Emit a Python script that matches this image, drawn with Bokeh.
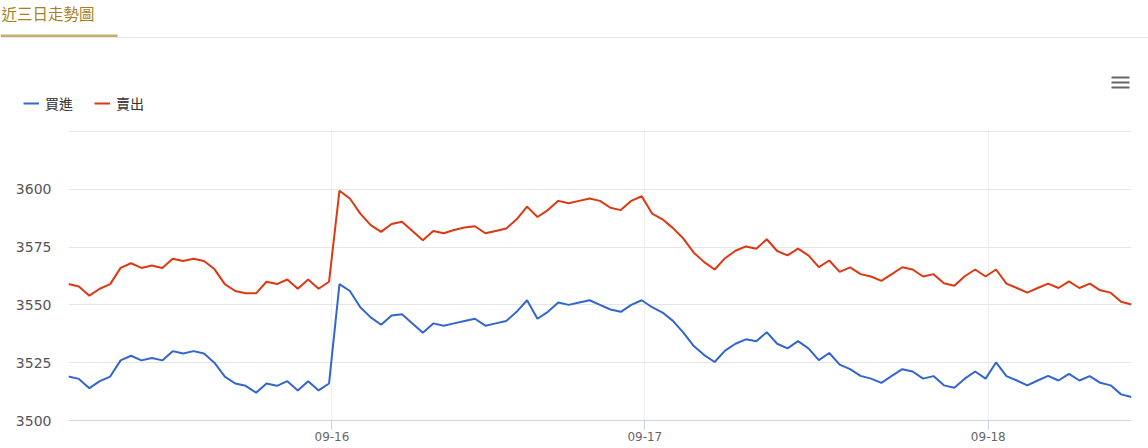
from bokeh.plotting import figure
from bokeh.layouts import column
from bokeh.models import (Legend, LegendItem, FixedTicker, ColumnDataSource, Range1d)
from bokeh.core.properties import value
from bokeh.embed import file_html
from bokeh.resources import INLINE

# ---------------- data ----------------
tab_title = "近三日走勢圖"
series_names = ["買進", "賣出"]
series_colors = ["#3366cc", "#dc3912"]
buy = [
    3519, 3518, 3514, 3517, 3519, 3526, 3528, 3526, 3527, 3526,
    3530, 3529, 3530, 3529, 3525, 3519, 3516, 3515, 3512, 3516,
    3515, 3517, 3513, 3517, 3513, 3516, 3559, 3556, 3549, 3544.6,
    3541.4, 3545.4, 3546, 3542, 3538, 3542, 3541, 3542, 3543, 3544,
    3541, 3542, 3543, 3547, 3552, 3544, 3547, 3551, 3550, 3551,
    3552, 3550, 3548, 3547, 3550, 3552, 3549, 3546.7, 3543.1, 3538,
    3532.2, 3528.3, 3525.3, 3530.2, 3533.2, 3535.1, 3534.3, 3538.2, 3533.2, 3531.2,
    3534.3, 3531.2, 3526.1, 3529.2, 3524.2, 3522.2, 3519.3, 3518.1, 3516.3, 3519.3,
    3522.2, 3521.2, 3518.1, 3519.2, 3515.2, 3514.2, 3518.1, 3521.2, 3518.1, 3525.1,
    3519.2, 3517.3, 3515.2, 3517.3, 3519.3, 3517.3, 3520.2, 3517.3, 3519.2, 3516.3,
    3515.2, 3511.3, 3510.2,
]
sell = [
    3559, 3558, 3554, 3557, 3559, 3566, 3568, 3566, 3567, 3566,
    3570, 3569, 3570, 3569, 3565.5, 3559, 3556, 3555, 3555, 3560,
    3559, 3561, 3557, 3561, 3557, 3560, 3599.4, 3596, 3589.5, 3584.5,
    3581.6, 3585, 3586, 3582, 3578, 3582, 3581, 3582.4, 3583.5, 3584,
    3581, 3582, 3583, 3587, 3592.5, 3588, 3591, 3595, 3594, 3595,
    3596, 3595, 3592, 3591, 3595, 3597, 3589.5, 3587, 3583.2, 3578.7,
    3572.6, 3568.5, 3565.3, 3570.2, 3573.4, 3575.3, 3574.3, 3578.4, 3573.3, 3571.4,
    3574.3, 3571.4, 3566.3, 3569.2, 3564.3, 3566.2, 3563.3, 3562.3, 3560.4, 3563.3,
    3566.3, 3565.3, 3562.3, 3563.3, 3559.4, 3558.3, 3562.4, 3565.3, 3562.3, 3565.3,
    3559.2, 3557.3, 3555.3, 3557.3, 3559.2, 3557.3, 3560.2, 3557.3, 3559.2, 3556.3,
    3555.3, 3551.4, 3550.2,
]
idx = list(range(len(buy)))
date_tick_pos = [25.28, 55.3, 88.26]
date_tick_labels = ["09-16", "09-17", "09-18"]
y_ticks = [3500, 3525, 3550, 3575, 3600, 3625]

W = 1148
HEAD_H = 120
MAIN_H = 448 - HEAD_H

src = ColumnDataSource(dict(x=idx, buy=buy, sell=sell))

# ---------------- header (tab, legend, menu icon) ----------------
head = figure(width=W, height=HEAD_H, output_backend="svg", toolbar_location=None,
              x_range=Range1d(0, W), y_range=Range1d(HEAD_H, 0),
              x_axis_location=None, y_axis_location=None,
              min_border=0, min_border_left=0, min_border_right=0,
              min_border_top=0, min_border_bottom=0)
head.frame_align = False
head.outline_line_color = None
head.xgrid.visible = False
head.ygrid.visible = False

head.text(x=[1], y=[12.5], text=[tab_title], text_baseline="middle", text_align="left",
          text_font=value("Noto Sans CJK TC"), text_font_size="15.5px", text_color="#a8811f")
head.quad(left=[0], right=[W], top=[36.5], bottom=[37.5], fill_color="#e6e6e6", line_color=None)
head.quad(left=[0], right=[117], top=[34], bottom=[36.6], fill_color="#c9ad6c", line_color=None)
head.quad(left=[1111, 1111, 1111], right=[1129, 1129, 1129], top=[76, 81, 86],
          bottom=[78, 83, 88], fill_color="#666666", line_color=None)

# legend samples: the series themselves (fall outside this header's range)
leg_r = [head.line("x", col, source=src, line_color=c, line_width=2)
         for col, c in zip(["buy", "sell"], series_colors)]
legend = Legend(items=[LegendItem(label=n, renderers=[r]) for n, r in zip(series_names, leg_r)],
                orientation="horizontal", location=(23, HEAD_H - 112.5),
                border_line_alpha=0, background_fill_alpha=0,
                padding=0, margin=0, glyph_width=16, glyph_height=20,
                label_standoff=6, spacing=21, label_height=20,
                label_text_font="Noto Sans CJK TC", label_text_font_size="14px",
                label_text_color="#333333")
head.add_layout(legend, "center")

# ---------------- main chart ----------------
FT = 10
FB = 420 - HEAD_H
p = figure(width=W, height=MAIN_H, output_backend="svg", toolbar_location=None,
           x_range=Range1d(0, len(buy) - 1), y_range=Range1d(3500, 3625.43),
           min_border_left=68, min_border_right=W - 1131,
           min_border_top=FT, min_border_bottom=MAIN_H - FB)
p.frame_align = False
p.outline_line_color = None

p.line("x", "buy", source=src, line_color=series_colors[0], line_width=2)
p.line("x", "sell", source=src, line_color=series_colors[1], line_width=2)

xa = p.xaxis[0]
xa.ticker = FixedTicker(ticks=date_tick_pos)
xa.major_label_overrides = {t: l for t, l in zip(date_tick_pos, date_tick_labels)}
xa.axis_line_color = "#ccd6eb"
xa.major_tick_line_color = "#ccd6eb"
xa.major_tick_out = 10
xa.major_tick_in = 0
xa.minor_tick_line_color = None
xa.major_label_standoff = 1
xa.major_label_text_font = "DejaVu Sans"
xa.major_label_text_font_size = "12px"
xa.major_label_text_color = "#666666"

ya = p.yaxis[0]
ya.ticker = FixedTicker(ticks=y_ticks)
ya.major_label_overrides = {3625: ""}
ya.axis_line_color = None
ya.major_tick_line_color = None
ya.minor_tick_line_color = None
ya.major_label_standoff = 11
ya.major_label_text_font = "DejaVu Sans"
ya.major_label_text_font_size = "14px"
ya.major_label_text_color = "#555555"

p.ygrid.grid_line_color = "#e6e6e6"
p.xgrid.grid_line_color = "#eeeeee"

open("out.html", "w").write(file_html(column(head, p, spacing=0), INLINE))
